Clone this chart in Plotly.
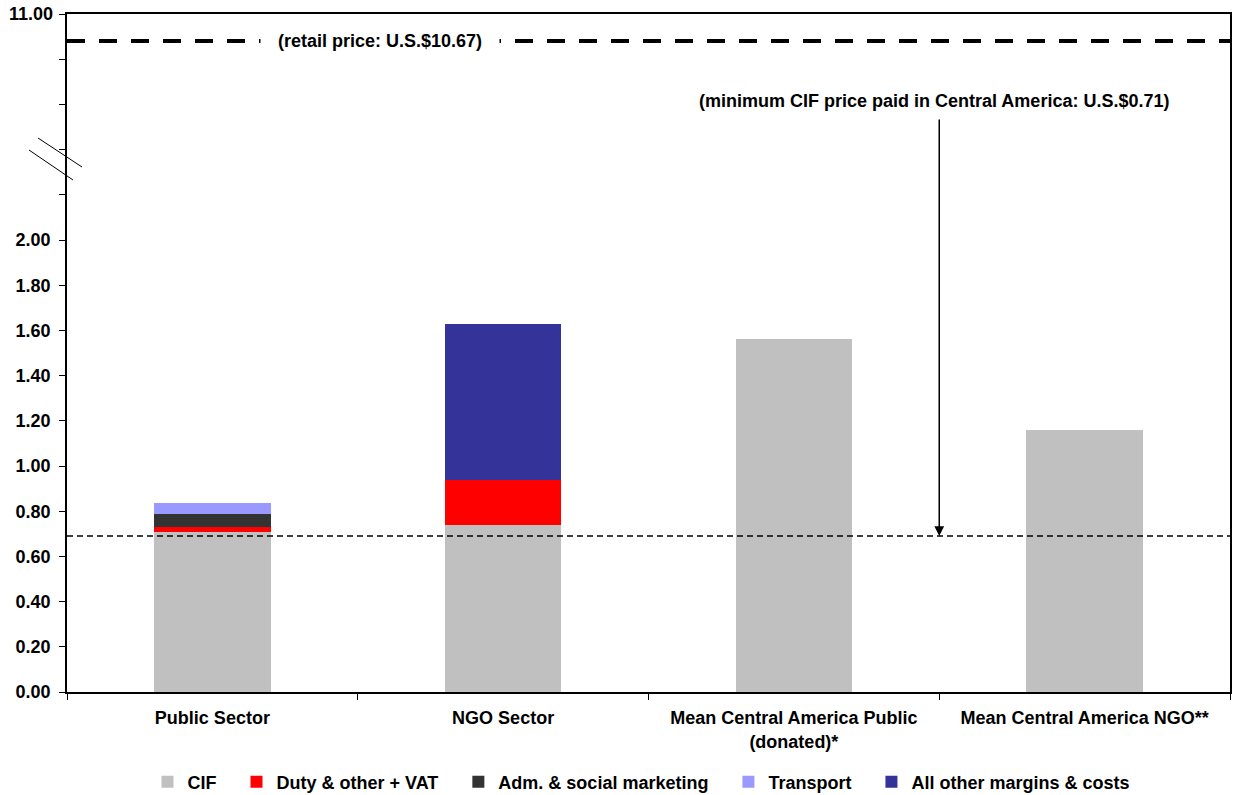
import plotly.graph_objects as go

categories = ["Public Sector", "NGO Sector", "Mean Central America Public<br>(donated)*", "Mean Central America NGO**"]
series_names = ["CIF", "Duty & other + VAT", "Adm. & social marketing", "Transport", "All other margins & costs"]
cif = [0.71, 0.74, 1.56, 1.16]
duty = [0.02, 0.20, 0, 0]
adm = [0.058, 0, 0, 0]
transport = [0.048, 0, 0, 0]
other = [0, 0.69, 0, 0]
colors = ["#C0C0C0", "#FF0000", "#333333", "#9999FF", "#333399"]

min_cif_line = 0.69
retail_price = 10.67

tick_vals = [0, 0.2, 0.4, 0.6, 0.8, 1.0, 1.2, 1.4, 1.6, 1.8, 2.0, 2.2, 2.4, 2.6, 2.8, 3.0]
tick_text = ["0.00", "0.20", "0.40", "0.60", "0.80", "1.00", "1.20", "1.40", "1.60", "1.80", "2.00",
             "", "", "", "", ""]
top_tick_value = 3.0
top_tick_label = "11.00"

font = dict(family="Liberation Sans, Arial, sans-serif", size=18, color="black", weight="bold")

fig = go.Figure()
for name, vals, col in zip(series_names, [cif, duty, adm, transport, other], colors):
    fig.add_trace(go.Bar(x=categories, y=vals, name=name + "\u00a0\u00a0\u00a0",
                         marker=dict(color=col, line=dict(width=0))))

# invisible trace to create upper (broken) scale axis
fig.add_trace(go.Scatter(x=[categories[0]], y=[retail_price], yaxis="y2", mode="markers",
                         marker=dict(opacity=0), showlegend=False, hoverinfo="skip"))

W, H = 1236, 795
PL, PT, PR, PB = 67, 14, 1230, 692

fig.update_layout(
    barmode="stack",
    bargap=0.6,
    width=W, height=H,
    margin=dict(l=PL, r=W - PR, t=PT, b=H - PB, autoexpand=False),
    paper_bgcolor="white", plot_bgcolor="white",
    font=font,
    showlegend=True,
    legend=dict(orientation="h", x=0.5, xanchor="center", y=-(782 - 692) / 678, yanchor="middle",
                font=font, itemwidth=30, traceorder="normal"),
    xaxis=dict(type="category", showline=True, linecolor="black", linewidth=1.5, mirror=True,
               ticks="outside", ticklen=6, tickcolor="black", tickson="boundaries",
               showgrid=False, tickfont=font, range=[-0.5, 3.5], automargin=False,
               ticklabelstandoff=9),
    yaxis=dict(range=[0, 3.0], tickvals=tick_vals, ticktext=tick_text, showline=True,
               linecolor="black", linewidth=1.5, mirror=True, ticks="outside", ticklen=6,
               tickcolor="black", showgrid=False, zeroline=False, tickfont=font, automargin=False,
               ticklabelstandoff=5),
    yaxis2=dict(range=[2.74, 11.0], overlaying="y", visible=False, showgrid=False, automargin=False),
)

shapes = [
    dict(type="line", xref="paper", x0=0, x1=1, yref="y", y0=min_cif_line, y1=min_cif_line,
         line=dict(color="black", width=1.5, dash="6px,4px")),
    dict(type="line", xref="paper", x0=0.0, x1=1, yref="y2", y0=retail_price, y1=retail_price,
         line=dict(color="black", width=4, dash="18px,14px")),
    # axis break marks
    dict(type="line", xref="paper", yref="paper", x0=(38 - 67) / 1163, x1=(82 - 67) / 1163,
         y0=(692 - 138) / 678, y1=(692 - 167) / 678, line=dict(color="black", width=1)),
    dict(type="line", xref="paper", yref="paper", x0=(29 - 67) / 1163, x1=(73 - 67) / 1163,
         y0=(692 - 150) / 678, y1=(692 - 180) / 678, line=dict(color="black", width=1)),
]
fig.update_layout(shapes=shapes)

annotations = [
    dict(text=top_tick_label, xref="paper", x=0, xanchor="right", xshift=-12, yref="y",
         y=top_tick_value, yanchor="middle", showarrow=False, font=font),
    dict(text="\u00a0\u00a0\u00a0(retail price: U.S.$10.67)\u00a0\u00a0\u00a0", xref="paper", x=(380 - 67) / 1163,
         yref="y2", y=retail_price, showarrow=False, bgcolor="white", borderpad=2, font=font,
         xanchor="center", yanchor="middle"),
    dict(text="(minimum CIF price paid in Central America: U.S.$0.71)", xref="paper", x=(934 - 67) / 1163,
         yref="y", y=(692 - 101) / 226, showarrow=False, font=font, xanchor="center", yanchor="middle"),
    dict(text="", x=2.5, y=min_cif_line, xref="x", yref="y", ax=2.5, ay=(692 - 118) / 226,
         axref="x", ayref="y", showarrow=True, arrowhead=2, arrowsize=1.3, arrowwidth=1.5,
         arrowcolor="black"),
]
fig.update_layout(annotations=annotations)

fig.write_html("out.html", config={"displayModeBar": False},
               post_script="document.body.style.margin='0';document.body.style.overflow='hidden';")
